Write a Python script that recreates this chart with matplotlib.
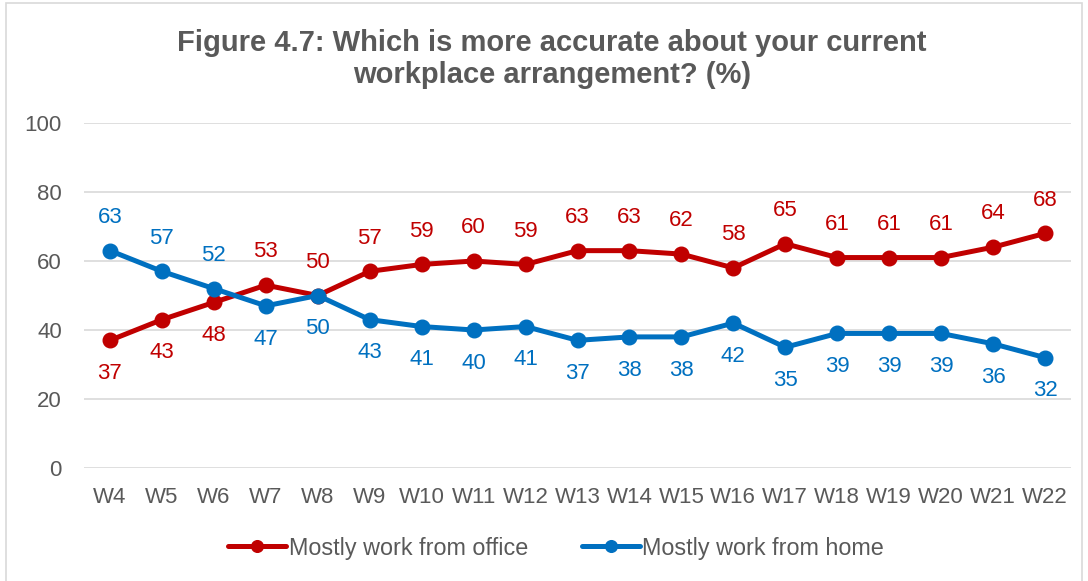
import matplotlib.pyplot as plt
from matplotlib.patches import Rectangle

plt.rcParams['font.family'] = ['Liberation Sans', 'DejaVu Sans']

waves = ["W4", "W5", "W6", "W7", "W8", "W9", "W10", "W11", "W12", "W13",
         "W14", "W15", "W16", "W17", "W18", "W19", "W20", "W21", "W22"]
office = [37, 43, 48, 53, 50, 57, 59, 60, 59, 63, 63, 62, 58, 65, 61, 61, 61, 64, 68]
home = [63, 57, 52, 47, 50, 43, 41, 40, 41, 37, 38, 38, 42, 35, 39, 39, 39, 36, 32]
yticks = [0, 20, 40, 60, 80, 100]

RED = "#C00000"
BLUE = "#0070C0"
GREY = "#595959"
FS = 16

fig = plt.figure(figsize=(10.88, 5.81), dpi=100)
fig.patches.append(Rectangle((6 / 1088, -0.01), 1076 / 1088, 1 - 3 / 581 + 0.01,
                             transform=fig.transFigure, fill=False,
                             edgecolor="#D9D9D9", linewidth=1.2))

ax = fig.add_axes([84 / 1088, 1 - 468 / 581, (1071 - 84) / 1088, (468 - 123) / 581])
x = list(range(len(waves)))

ax.plot(x, office, color=RED, linewidth=3.6, marker="o", markersize=10.5,
        solid_capstyle="round", label="Mostly work from office", zorder=3)
ax.plot(x, home, color=BLUE, linewidth=3.6, marker="o", markersize=10.5,
        solid_capstyle="round", label="Mostly work from home", zorder=4)

# office labels sit below the line while it trails, above once it leads
OFF = 24
for i, v in enumerate(office):
    below = i < 3
    ax.annotate(f"{v}", (i, v), xytext=(0, -OFF if below else OFF),
                textcoords="offset points", ha="center", va="center",
                color=RED, fontsize=FS)
for i, v in enumerate(home):
    above = i < 3
    ax.annotate(f"{v}", (i, v), xytext=(0, OFF if above else -OFF),
                textcoords="offset points", ha="center", va="center",
                color=BLUE, fontsize=FS)

ax.set_xlim(-0.5, len(waves) - 0.5)
ax.set_ylim(0, 100)
ax.set_yticks(yticks)
ax.set_xticks(x)
ax.set_xticklabels(waves)
ax.grid(axis="y", color="#D9D9D9", linewidth=1.2)
ax.set_axisbelow(True)
for s in ax.spines.values():
    s.set_visible(False)
ax.tick_params(axis="both", length=0, labelsize=FS, labelcolor=GREY)
ax.tick_params(axis="y", pad=16)
ax.tick_params(axis="x", pad=14)

fig.text(552 / 1088, 1 - 59 / 581, "Figure 4.7: Which is more accurate about your current\nworkplace arrangement? (%)",
         ha="center", va="center", fontsize=21, fontweight="bold", color=GREY,
         linespacing=1.15)

leg = fig.legend(loc="center", bbox_to_anchor=(556 / 1088, 1 - 548 / 581), ncol=2,
                 frameon=False, fontsize=16.8, labelcolor=GREY, handlelength=2.5,
                 handletextpad=0.1, columnspacing=2.3, markerscale=0.8)

fig.savefig("out.png", dpi=100)
